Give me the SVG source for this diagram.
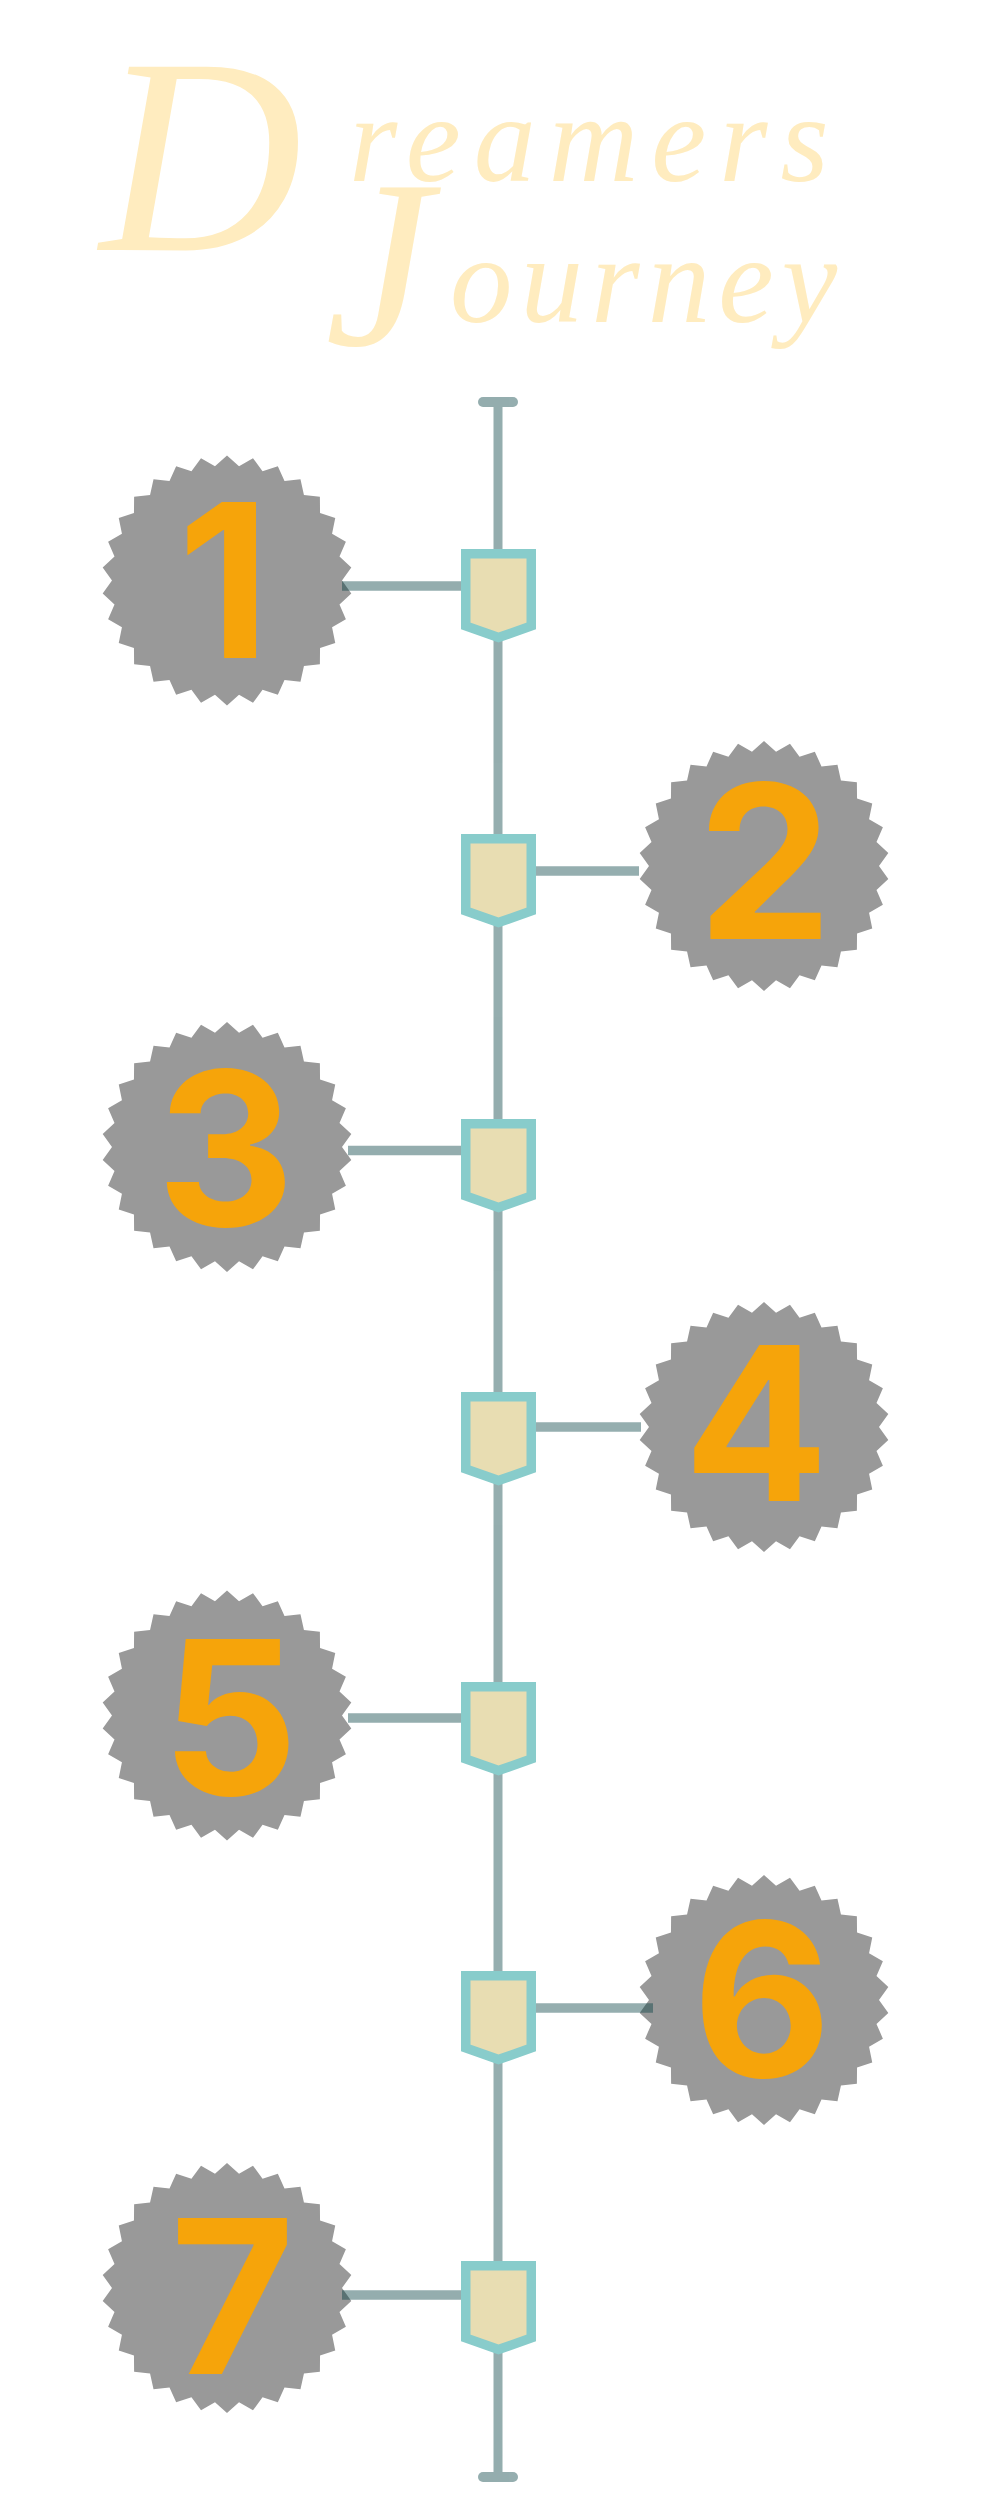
<svg xmlns="http://www.w3.org/2000/svg" xmlns:xlink="http://www.w3.org/1999/xlink" width="1000" height="2500" viewBox="0 0 1000 2500">
  <style>
    .title { font-family: "Liberation Serif", "DejaVu Serif", serif; font-style: italic; fill: #ffecbf; }
    .badge { fill: #999999; }
    .num { font-family: Inter, "Open Sans", "Liberation Sans", sans-serif; font-weight: 700; font-size: 214px; fill: #f6a40a; text-anchor: middle; }
    .marker { fill: #e8ddb2; stroke: #88cccb; stroke-width: 9.5; stroke-linejoin: miter; }
    .lines { opacity: 0.42; }
    .lines path { fill: none; stroke: #023e40; }
    .vline { stroke-width: 9; }
    .cap { stroke-width: 10; stroke-linecap: round; }
    .conn { stroke-width: 9.5; }
  </style>
  <defs>
    <polygon id="star" points="0,-125 12.02,-114.37 25.99,-122.27 35.54,-109.37 50.84,-114.19 57.5,-99.59 73.47,-101.13 76.95,-85.46 92.89,-83.64 93.04,-67.6 108.25,-62.5 105.06,-46.78 118.88,-38.63 112.49,-23.91 124.32,-13.07 115,0 124.32,13.07 112.49,23.91 118.88,38.63 105.06,46.78 108.25,62.5 93.04,67.6 92.89,83.64 76.95,85.46 73.47,101.13 57.5,99.59 50.84,114.19 35.54,109.37 25.99,122.27 12.02,114.37 0,125 -12.02,114.37 -25.99,122.27 -35.54,109.37 -50.84,114.19 -57.5,99.59 -73.47,101.13 -76.95,85.46 -92.89,83.64 -93.04,67.6 -108.25,62.5 -105.06,46.78 -118.88,38.63 -112.49,23.91 -124.32,13.07 -115,0 -124.32,-13.07 -112.49,-23.91 -118.88,-38.63 -105.06,-46.78 -108.25,-62.5 -93.04,-67.6 -92.89,-83.64 -76.95,-85.46 -73.47,-101.13 -57.5,-99.59 -50.84,-114.19 -35.54,-109.37 -25.99,-122.27 -12.02,-114.37"/>
    <polygon id="shield" points="465.75,4.75 531.25,4.75 531.25,77 498.5,88.5 465.75,77"/>
  </defs>

  <rect width="1000" height="2500" fill="#ffffff"/>

  <g id="title">
    <text class="title" x="100" y="250"><tspan font-size="280">D</tspan><tspan x="349" y="181" font-size="124" letter-spacing="13">reamers</tspan></text>
    <text class="title" x="325" y="345"><tspan font-size="240">J</tspan><tspan x="450" y="322" font-size="125" letter-spacing="8">ourney</tspan></text>
  </g>

  <g id="node-1">
    <use xlink:href="#star" class="badge" transform="translate(227 580.5)"/>
    <text class="num" x="224" y="658">1</text>
  </g>
  <g id="node-2">
    <use xlink:href="#star" class="badge" transform="translate(764 866)"/>
    <text class="num" x="765" y="939">2</text>
  </g>
  <g id="node-3">
    <use xlink:href="#star" class="badge" transform="translate(227 1147)"/>
    <text class="num" x="225.5" y="1226">3</text>
  </g>
  <g id="node-4">
    <use xlink:href="#star" class="badge" transform="translate(764 1427)"/>
    <text class="num" x="756" y="1501">4</text>
  </g>
  <g id="node-5">
    <use xlink:href="#star" class="badge" transform="translate(227 1715.5)"/>
    <text class="num" x="230" y="1795">5</text>
  </g>
  <g id="node-6">
    <use xlink:href="#star" class="badge" transform="translate(764 2000)"/>
    <text class="num" x="762" y="2077">6</text>
  </g>
  <g id="node-7">
    <use xlink:href="#star" class="badge" transform="translate(227 2288)"/>
    <text class="num" x="232.5" y="2374">7</text>
  </g>

  <g id="connectors" class="lines">
    <path class="vline" d="M498 402 V2477"/>
    <path class="cap" d="M483 402 H513"/>
    <path class="cap" d="M483 2477 H513"/>
    <path class="conn" d="M342 586 H470"/>
    <path class="conn" d="M527 871 H639"/>
    <path class="conn" d="M348 1150.5 H470"/>
    <path class="conn" d="M527 1427 H641"/>
    <path class="conn" d="M348 1718 H470"/>
    <path class="conn" d="M527 2008 H653"/>
    <path class="conn" d="M342 2295 H470"/>
  </g>

  <g id="markers">
    <use id="marker-1" xlink:href="#shield" class="marker" transform="translate(0 549)"/>
    <use id="marker-2" xlink:href="#shield" class="marker" transform="translate(0 834)"/>
    <use id="marker-3" xlink:href="#shield" class="marker" transform="translate(0 1119)"/>
    <use id="marker-4" xlink:href="#shield" class="marker" transform="translate(0 1392)"/>
    <use id="marker-5" xlink:href="#shield" class="marker" transform="translate(0 1682)"/>
    <use id="marker-6" xlink:href="#shield" class="marker" transform="translate(0 1971)"/>
    <use id="marker-7" xlink:href="#shield" class="marker" transform="translate(0 2261)"/>
  </g>
</svg>
